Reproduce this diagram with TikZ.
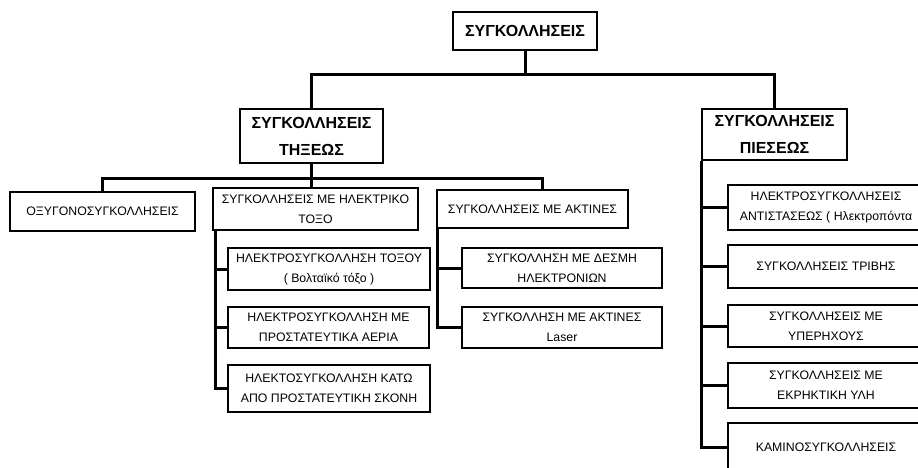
\documentclass[tikz,border=0pt]{standalone}
\usepackage{fontspec}
\setmainfont{Liberation Sans}
\usetikzlibrary{positioning}

\begin{document}
\begin{tikzpicture}[x=1pt,y=-1pt,
    head/.style={draw,line width=2.2pt,align=center,inner sep=0pt,
                 font=\fontsize{16}{27}\selectfont\bfseries},
    item/.style={draw,line width=2pt,align=center,inner sep=0pt,
                 font=\fontsize{12.3}{20}\selectfont},
    link/.style={line width=3pt}]
\useasboundingbox (0,0) rectangle (918,468);
\clip (0,0) rectangle (918,468);

% define the main boxes
  \node[head,minimum width=144pt,minimum height=38pt]	(root)	at (525,31)	{ΣΥΓΚΟΛΛΗΣΕΙΣ};
  \node[head,minimum width=143pt,minimum height=54pt]	(tixi)	at (311.5,136)	{ΣΥΓΚΟΛΛΗΣΕΙΣ\\ΤΗΞΕΩΣ};
  \node[head,minimum width=145pt,minimum height=51pt]	(piesi)	at (774.5,134.5)	{ΣΥΓΚΟΛΛΗΣΕΙΣ\\ΠΙΕΣΕΩΣ};

% define the fusion boxes
  \node[item,minimum width=185pt,minimum height=39pt]	(oxy)	at (102.5,211.5)	{ΟΞΥΓΟΝΟΣΥΓΚΟΛΛΗΣΕΙΣ};
  \node[item,minimum width=205pt,minimum height=42pt]	(elec)	at (315.5,209)	{ΣΥΓΚΟΛΛΗΣΕΙΣ ΜΕ ΗΛΕΚΤΡΙΚΟ\\ΤΟΞΟ};
  \node[item,minimum width=191pt,minimum height=38pt]	(aktines)	at (532.5,209)	{ΣΥΓΚΟΛΛΗΣΕΙΣ ΜΕ ΑΚΤΙΝΕΣ};
  \node[item,minimum width=202pt,minimum height=42pt]	(arc1)	at (329,269)	{ΗΛΕΚΤΡΟΣΥΓΚΟΛΛΗΣΗ ΤΟΞΟΥ\\( Βολταϊκό τόξο )};
  \node[item,minimum width=201pt,minimum height=41pt]	(arc2)	at (328.5,327.5)	{ΗΛΕΚΤΡΟΣΥΓΚΟΛΛΗΣΗ ΜΕ\\ΠΡΟΣΤΑΤΕΥΤΙΚΑ ΑΕΡΙΑ};
  \node[item,minimum width=202pt,minimum height=47pt]	(arc3)	at (329,388.5)	{ΗΛΕΚΤΟΣΥΓΚΟΛΛΗΣΗ ΚΑΤΩ\\ΑΠΟ ΠΡΟΣΤΑΤΕΥΤΙΚΗ ΣΚΟΝΗ};
  \node[item,minimum width=200pt,minimum height=40pt]	(las1)	at (562,268)	{ΣΥΓΚΟΛΛΗΣΗ ΜΕ ΔΕΣΜΗ\\ΗΛΕΚΤΡΟΝΙΩΝ};
  \node[item,minimum width=200pt,minimum height=41pt]	(las2)	at (562,327.5)	{ΣΥΓΚΟΛΛΗΣΗ ΜΕ ΑΚΤΙΝΕΣ\\Laser};

% define the pressure boxes
  \node[item,minimum width=196pt,minimum height=45pt]	(p1)	at (826,207.5)	{ΗΛΕΚΤΡΟΣΥΓΚΟΛΛΗΣΕΙΣ\\ΑΝΤΙΣΤΑΣΕΩΣ ( Ηλεκτροπόντα};
  \node[item,minimum width=196pt,minimum height=43pt]	(p2)	at (826,266.5)	{ΣΥΓΚΟΛΛΗΣΕΙΣ ΤΡΙΒΗΣ};
  \node[item,minimum width=196pt,minimum height=42pt]	(p3)	at (826,326)	{ΣΥΓΚΟΛΛΗΣΕΙΣ ΜΕ\\ΥΠΕΡΗΧΟΥΣ};
  \node[item,minimum width=196pt,minimum height=45pt]	(p4)	at (826,385.5)	{ΣΥΓΚΟΛΛΗΣΕΙΣ ΜΕ\\ΕΚΡΗΚΤΙΚΗ ΥΛΗ};
  \node[item,minimum width=196pt,minimum height=48pt]	(p5)	at (826,447)	{ΚΑΜΙΝΟΣΥΓΚΟΛΛΗΣΕΙΣ};

% define the links
  \coordinate (bus1) at (0,75);
  \coordinate (bus2) at (0,178);
  \draw[link] (root.south) -- (root.south |- bus1);
  \draw[link] (tixi.north) |- (root.south |- bus1) -| (piesi.north);
  \draw[link] (tixi.south) -- (tixi.south |- elec.north);
  \draw[link] (oxy.north) |- (tixi.south |- bus2) -| ([xshift=10pt]aktines.north);
  \foreach \c in {arc1,arc2,arc3}
    \draw[link] ([xshift=3pt]elec.south west) |- (\c.west);
  \foreach \c in {las1,las2}
    \draw[link] ([xshift=1pt]aktines.south west) |- (\c.west);
  \foreach \c in {p1,p2,p3,p4,p5}
    \draw[link] ([xshift=1pt]piesi.south west) |- (\c.west);
\end{tikzpicture}
\end{document}
